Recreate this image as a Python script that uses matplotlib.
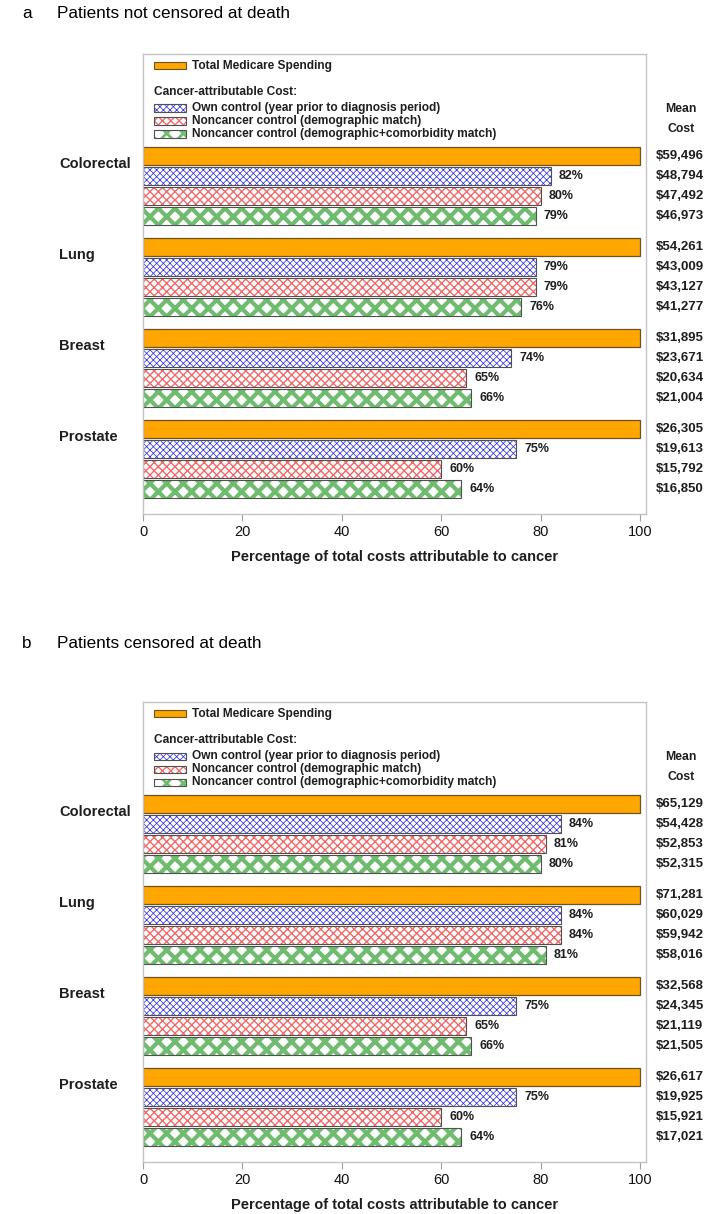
import matplotlib
matplotlib.use('Agg')
import matplotlib.pyplot as plt
from matplotlib.patches import Rectangle
import numpy as np

plt.rcParams['font.family'] = ['Liberation Sans', 'DejaVu Sans']

# data
cancers = ['Colorectal', 'Lung', 'Breast', 'Prostate']
series_names = ['Own control (year prior to diagnosis period)',
                'Noncancer control (demographic match)',
                'Noncancer control (demographic+comorbidity match)']

# panel a: patients not censored at death
a_total_cost = [59496, 54261, 31895, 26305]
a_own_cost = [48794, 43009, 23671, 19613]
a_demo_cost = [47492, 43127, 20634, 15792]
a_comorb_cost = [46973, 41277, 21004, 16850]
a_own_pct = [82, 79, 74, 75]
a_demo_pct = [80, 79, 65, 60]
a_comorb_pct = [79, 76, 66, 64]

# panel b: patients censored at death
b_total_cost = [65129, 71281, 32568, 26617]
b_own_cost = [54428, 60029, 24345, 19925]
b_demo_cost = [52853, 59942, 21119, 15921]
b_comorb_cost = [52315, 58016, 21505, 17021]
b_own_pct = [84, 84, 75, 75]
b_demo_pct = [81, 84, 65, 60]
b_comorb_pct = [80, 81, 66, 64]

W, H = 709, 1214
ORANGE = '#ffa600'
ORANGE_EDGE = '#6b5420'
OUTLINE = '#505050'
TXT = '#1e1e1e'
styles = [  # hatch, hatch colour, hatch width
    ('xxxxx', '#3434e0', 0.55),
    ('xxxx', '#f06a6a', 1.0),
    ('xx', '#6fbc6f', 3.0),
]

fig = plt.figure(figsize=(W / 100, H / 100), dpi=100)


def fx(x):
    return x / W


def fy(y):
    return 1 - y / H


def hatched_rect(x, y, w, h, hatch, hcol, hlw):
    plt.rcParams['hatch.linewidth'] = hlw
    r = Rectangle((x, y), w, h, facecolor='white', edgecolor=hcol,
                  hatch=hatch, linewidth=0, transform=fig.transFigure)
    if hasattr(r, 'set_hatch_linewidth'):
        r.set_hatch_linewidth(hlw)
    fig.add_artist(r)
    fig.add_artist(Rectangle((x, y), w, h, fill=False, edgecolor=OUTLINE,
                             linewidth=0.8, transform=fig.transFigure))


def draw_panel(top, title_y, letter, title, total_cost, costs, pcts):
    bottom = top + 460
    ax = fig.add_axes([fx(143), fy(bottom), (646 - 143) / W, 460 / H])

    group_step = 4.55
    base = np.arange(len(cancers)) * group_step
    ax.barh(base, [100] * len(cancers), height=0.94, color=ORANGE,
            edgecolor=ORANGE_EDGE, linewidth=0.9)
    for j, (pct, cost) in enumerate(zip(pcts, costs)):
        hatch, hcol, hlw = styles[j]
        plt.rcParams['hatch.linewidth'] = hlw
        bars = ax.barh(base + j + 1, pct, height=0.94, color='white',
                       edgecolor=hcol, hatch=hatch, linewidth=0)
        for b in bars:
            if hasattr(b, 'set_hatch_linewidth'):
                b.set_hatch_linewidth(hlw)
        ax.barh(base + j + 1, pct, height=0.94, fill=False,
                edgecolor=OUTLINE, linewidth=0.8)
        for yy, p in zip(base + j + 1, pct):
            ax.annotate(f'{p}%', xy=(p, yy), xytext=(6, 0),
                        textcoords='offset points', ha='left', va='center',
                        fontsize=9, fontweight='bold', color=TXT)

    # mean cost column outside the frame, category names to the left
    for g in range(len(cancers)):
        vals = [total_cost[g]] + [c[g] for c in costs]
        for j, v in enumerate(vals):
            ax.annotate(f'${v:,}', xy=(1, base[g] + j),
                        xycoords=('axes fraction', 'data'),
                        xytext=(7, 0), textcoords='offset points',
                        ha='left', va='center', fontsize=9.5,
                        fontweight='bold', color=TXT)
        ax.annotate(cancers[g], xy=(0, base[g] + 0.4),
                    xycoords=('axes fraction', 'data'),
                    xytext=(-84 * 0.72, 0), textcoords='offset points',
                    ha='left', va='center', fontsize=10.5,
                    fontweight='bold', color=TXT)

    ax.set_ylim(base[-1] + 3.5 + 0.75, -5.1)
    ax.set_xlim(0, 101.2)
    ax.set_yticks([])
    ax.set_xticks([0, 20, 40, 60, 80, 100])
    ax.tick_params(axis='x', labelsize=10.5, color='#a0a0a0', length=5,
                   labelcolor='#111111', pad=3)
    for s in ax.spines.values():
        s.set_color('#c4c4c4')
        s.set_linewidth(1.0)
    ax.set_xlabel('Percentage of total costs attributable to cancer',
                  fontsize=10.5, fontweight='bold', color=TXT, labelpad=8)

    fig.text(fx(22), fy(title_y), letter, fontsize=12.3, va='center')
    fig.text(fx(57), fy(title_y), title, fontsize=12.3, va='center')

    # legend drawn inside the frame
    pw, ph = 32, 7
    fig.add_artist(Rectangle((fx(154), fy(top + 15)), pw / W, ph / H,
                             facecolor=ORANGE, edgecolor=ORANGE_EDGE,
                             linewidth=0.8, transform=fig.transFigure))
    fig.text(fx(192), fy(top + 11.5), 'Total Medicare Spending', fontsize=8.6,
             fontweight='bold', va='center', color=TXT)
    fig.text(fx(154), fy(top + 38), 'Cancer-attributable Cost:', fontsize=8.6,
             fontweight='bold', va='center', color=TXT)
    for j, name in enumerate(series_names):
        cy = top + 54 + 13 * j
        hatch, hcol, hlw = styles[j]
        hatched_rect(fx(154), fy(cy + 3.5), pw / W, ph / H, hatch, hcol,
                     min(hlw, 2.0))
        fig.text(fx(192), fy(cy), name, fontsize=8.6, fontweight='bold',
                 va='center', color=TXT)

    fig.text(fx(681), fy(top + 55), 'Mean', fontsize=8.8, fontweight='bold',
             ha='center', va='center', color=TXT)
    fig.text(fx(681), fy(top + 75), 'Cost', fontsize=8.8, fontweight='bold',
             ha='center', va='center', color=TXT)


draw_panel(54, 13, 'a', 'Patients not censored at death',
           a_total_cost, [a_own_cost, a_demo_cost, a_comorb_cost],
           [a_own_pct, a_demo_pct, a_comorb_pct])
draw_panel(702, 643, 'b', 'Patients censored at death',
           b_total_cost, [b_own_cost, b_demo_cost, b_comorb_cost],
           [b_own_pct, b_demo_pct, b_comorb_pct])

fig.savefig('out.png', dpi=100)
